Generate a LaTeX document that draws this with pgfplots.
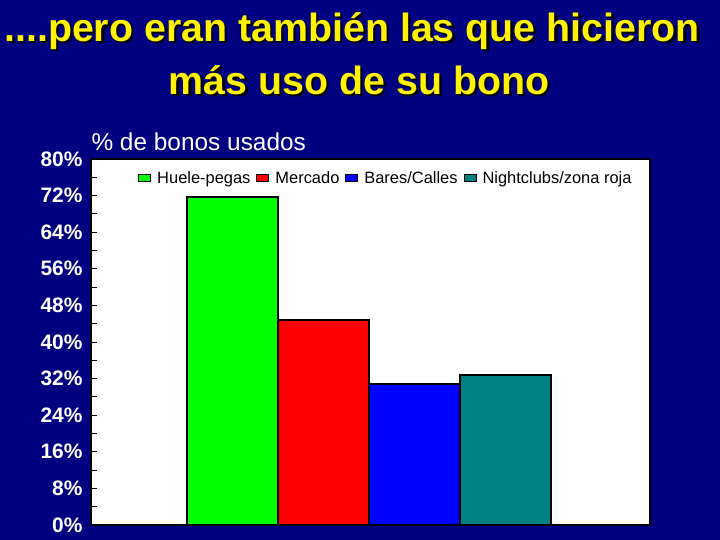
\documentclass[border=0pt]{standalone}
\usepackage{fontspec}
\setmainfont{Liberation Sans}
\usepackage{pgfplots}
\pgfplotsset{compat=1.18}

\definecolor{navybg}{RGB}{0,0,128}
\definecolor{barteal}{RGB}{0,128,128}

\begin{document}
\begin{tikzpicture}[x=1bp,y=1bp]
  \fill[navybg] (0,0) rectangle (720,540);
  % title with shadow
  \foreach \dx/\dy/\col in {2.5/-2.5/black,0/0/yellow}{
    \node[text=\col,font=\fontsize{39.5}{44}\selectfont\bfseries] at (352+\dx,509+\dy) {....pero eran también las que hicieron};
    \node[text=\col,font=\fontsize{39.5}{44}\selectfont\bfseries] at (359+\dx,460+\dy) {más uso de su bono};
  }
  \node[text=white,anchor=west,font=\fontsize{24.5}{28}\selectfont] at (88,398) {\% de bonos usados};

  \begin{axis}[
    at={(91bp,15bp)}, anchor=south west,
    scale only axis,
    width=559bp, height=366bp,
    xmin=-1.555, xmax=4.588,
    ymin=0, ymax=80,
    ytick={0,8,...,80},
    minor y tick num=1,
    xtick=\empty,
    ytick pos=left,
    tick align=inside,
    major tick length=6bp,
    minor tick length=6bp,
    tick style={black, line width=0.8bp},
    axis line style={black, line width=1.5bp},
    axis background/.style={fill=white},
    /pgf/number format/assume math mode=true,
    yticklabel={\pgfmathprintnumber{\tick}\%},
    yticklabel style={text=white, font=\fontsize{21}{24}\selectfont\bfseries, xshift=-5bp},
    ybar, bar width=1, bar shift=0pt,
    every axis plot/.append style={draw=black, line width=2bp},
    legend columns=4,
    legend style={at={(0.5275,0.947)}, anchor=center, draw=none, fill=none,
      font=\fontsize{16.5}{19}\selectfont, inner sep=0pt,
      /tikz/every odd column/.append style={column sep=4bp},
      /tikz/every even column/.append style={column sep=4bp}},
    legend image code/.code={\draw[#1, line width=1bp] (0bp,-3.5bp) rectangle (12bp,4bp);},
    ]
    \addplot[fill=green] coordinates {(0,71.6)};
    \addplot[fill=red] coordinates {(1,44.8)};
    \addplot[fill=blue] coordinates {(2,30.8)};
    \addplot[fill=barteal] coordinates {(3,32.8)};
    \legend{Huele-pegas,Mercado,Bares/Calles,Nightclubs/zona roja}
  \end{axis}
\end{tikzpicture}
\end{document}
